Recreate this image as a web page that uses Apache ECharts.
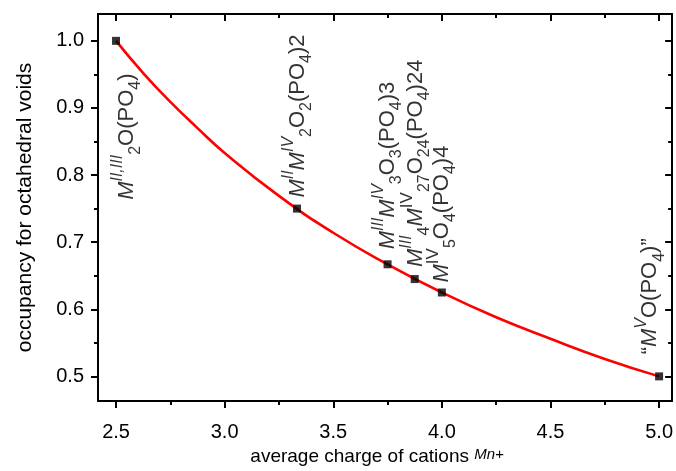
<!DOCTYPE html>
<html>
<head>
<meta charset="utf-8">
<script src="https://cdn.jsdelivr.net/npm/echarts@6/dist/echarts.min.js"></script>
<style>html,body{margin:0;padding:0;background:#fff}#c{width:676px;height:471px}</style>
</head>
<body>
<div id="c"></div>
<script>
// ---- data ----
const pointX = [2.5, 3.333, 3.75, 3.875, 4.0, 5.0];
const pointY = [1.0, 0.75, 0.667, 0.645, 0.625, 0.5];
const pointLabels = [
  '{m|M}{sup|II,III}{sub|2}{t|O(PO}{sub|4}{t|)}',
  '{m|M}{sup|II}{m|M}{sup|IV}{sub|2}{t|O}{sub|2}{t|(PO}{sub|4}{t|)2}',
  '{m|M}{sup|III}{m|M}{sup|IV}{sub|3}{t|O}{sub|3}{t|(PO}{sub|4}{t|)3}',
  '{m|M}{sup|III}{sub|4}{m|M}{supr|IV}{sub|27}{t|O}{sub|24}{t|(PO}{sub|4}{t|)24}',
  '{m|M}{supr|IV}{sub|5}{t|O}{sub|4}{t|(PO}{sub|4}{t|)4}',
  '{t|“}{m|M}{sup|V}{t|O(PO}{sub|4}{t|)”}'
];
const curveX = [2.5, 2.625, 2.75, 2.875, 3.0, 3.25, 3.5, 3.75, 4.0, 4.25, 4.5, 4.75, 5.0];
const curveY = [1.0, 0.952, 0.909, 0.870, 0.833, 0.769, 0.714, 0.667, 0.625, 0.588, 0.556, 0.526, 0.5];
const xMajorTicks = [2.5, 3.0, 3.5, 4.0, 4.5, 5.0];
const xMinorTicks = [2.75, 3.25, 3.75, 4.25, 4.75];
const yMajorTicks = [0.5, 0.6, 0.7, 0.8, 0.9, 1.0];
const yMinorTicks = [0.55, 0.65, 0.75, 0.85, 0.95];
const xTitle = 'average charge of cations {sup|Mn+}';
const yTitle = 'occupancy for octahedral voids';

// ---- layout ----
const labelPos = [[15, 163], [5, -7], [4, -11], [5, -8], [4, -6], [-5, -18]];
const X_MIN = 2.417, X_MAX = 5.06, Y_MIN = 0.4633, Y_MAX = 1.040;
const FONT = "'Liberation Sans', Arial, sans-serif";

const richStyles = {
  m: {fontSize: 22, fontStyle: 'italic', fontFamily: FONT, color: '#000', lineHeight: 34, verticalAlign: 'middle'},
  t: {fontSize: 22, fontFamily: FONT, color: '#000', lineHeight: 24, verticalAlign: 'middle'},
  sup: {fontSize: 16, fontStyle: 'italic', fontFamily: FONT, color: '#000', lineHeight: 15, verticalAlign: 'top'},
  supr: {fontSize: 17, fontFamily: FONT, color: '#000', lineHeight: 15, verticalAlign: 'top'},
  sub: {fontSize: 16, fontFamily: FONT, color: '#000', lineHeight: 15, verticalAlign: 'bottom'}
};

const black = '#000';
function xAxisDef(position, ticks, len, inside, withLine, withLabel) {
  return {
    type: 'value', position: position, min: X_MIN, max: X_MAX,
    axisLine: {show: withLine, lineStyle: {color: black, width: 2}},
    axisTick: {show: true, customValues: ticks, length: len, inside: inside, lineStyle: {color: black, width: 2}},
    axisLabel: withLabel ? {show: true, customValues: ticks, formatter: v => v.toFixed(1), color: black, fontSize: 20, fontFamily: FONT, margin: 21} : {show: false},
    splitLine: {show: false},
    name: withLabel ? xTitle : '',
    nameLocation: 'middle', nameGap: 46,
    nameTextStyle: {color: black, fontSize: 19, fontFamily: FONT, padding: [0, 16, 0, 0],
      rich: {sup: {fontSize: 15, fontStyle: 'italic', fontFamily: FONT, color: black, verticalAlign: 'top', lineHeight: 13}}}
  };
}
function yAxisDef(position, ticks, len, inside, withLine, withLabel) {
  return {
    type: 'value', position: position, min: Y_MIN, max: Y_MAX,
    axisLine: {show: withLine, lineStyle: {color: black, width: 2}},
    axisTick: {show: true, customValues: ticks, length: len, inside: inside, lineStyle: {color: black, width: 2}},
    axisLabel: withLabel ? {show: true, customValues: ticks, formatter: v => v.toFixed(1), color: black, fontSize: 20, fontFamily: FONT, margin: 14} : {show: false},
    splitLine: {show: false},
    name: withLabel ? yTitle : '',
    nameLocation: 'middle', nameGap: 62,
    nameTextStyle: {color: black, fontSize: 21, fontFamily: FONT}
  };
}

const chart = echarts.init(document.getElementById('c'), null, {renderer: 'canvas'});
const option = {
  backgroundColor: '#fff',
  animation: false,
  grid: {left: 98, right: 3, top: 14, bottom: 69, containLabel: false},
  xAxis: [
    xAxisDef('bottom', xMajorTicks, 7, false, true, true),
    xAxisDef('bottom', xMinorTicks, 4, false, false, false),
    xAxisDef('top', xMajorTicks, 7, true, true, false),
    xAxisDef('top', xMinorTicks, 4, true, false, false)
  ],
  yAxis: [
    yAxisDef('left', yMajorTicks, 7, false, true, true),
    yAxisDef('left', yMinorTicks, 4, false, false, false),
    yAxisDef('right', yMajorTicks, 7, true, true, false),
    yAxisDef('right', yMinorTicks, 4, true, false, false)
  ],
  series: [
    {
      type: 'line', xAxisIndex: 0, yAxisIndex: 0,
      data: curveX.map((x, i) => [x, curveY[i]]),
      smooth: true, showSymbol: false, symbol: 'none',
      lineStyle: {color: '#ff0000', width: 2.6}, z: 2
    },
    {
      type: 'scatter', xAxisIndex: 0, yAxisIndex: 0,
      symbol: 'rect', symbolSize: 8,
      itemStyle: {color: '#000'},
      z: 3,
      data: pointX.map((x, i) => ({
        value: [x, pointY[i]],
        label: {
          show: true, formatter: pointLabels[i], rotate: 90,
          position: labelPos[i], align: 'left', verticalAlign: 'middle',
          rich: richStyles
        }
      }))
    }
  ]
};
chart.setOption(option);
</script>
</body>
</html>
